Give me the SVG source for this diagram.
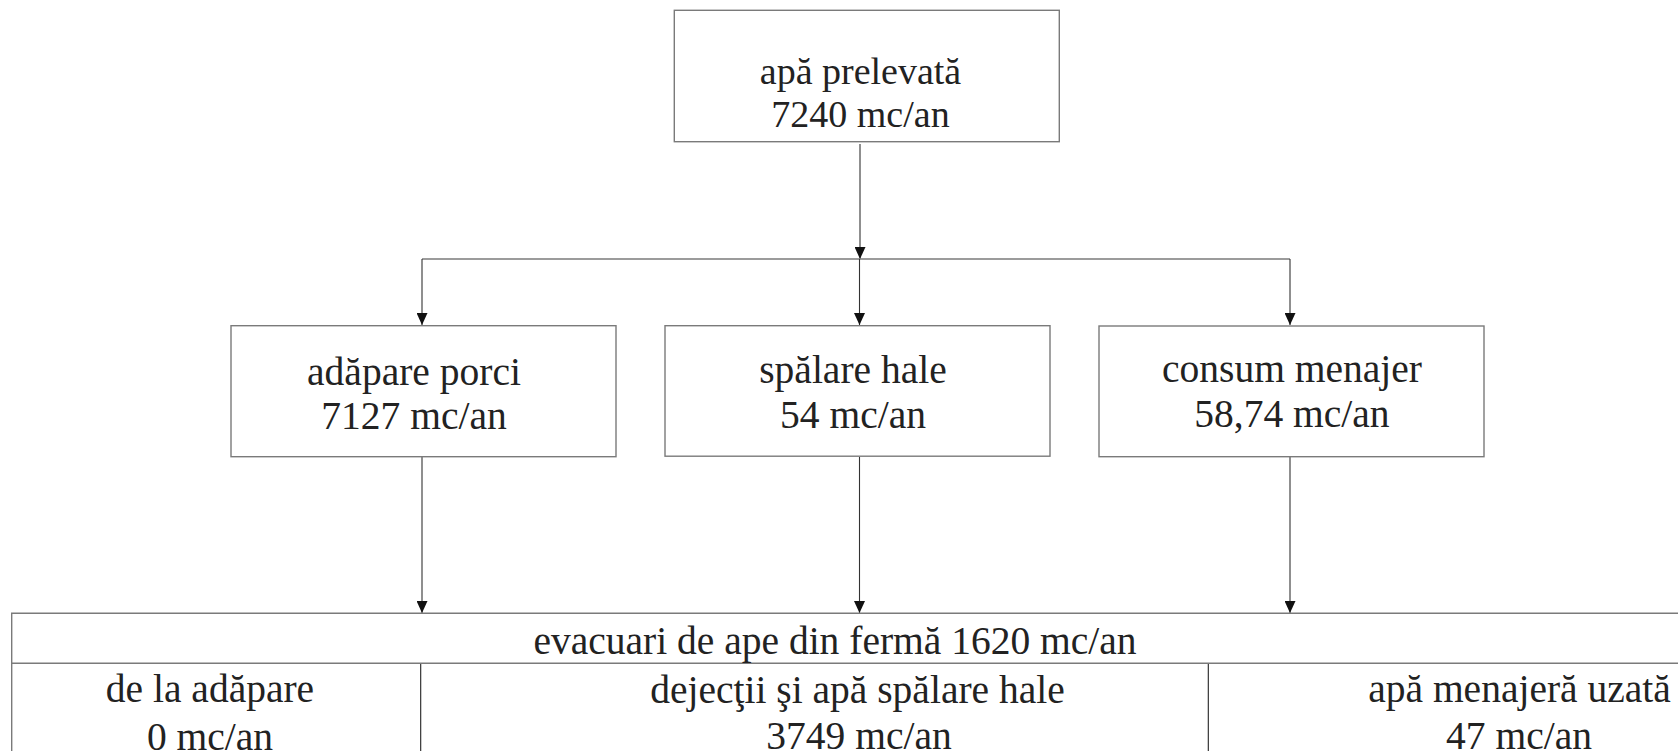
<svg xmlns="http://www.w3.org/2000/svg" width="1678" height="751" viewBox="0 0 1678 751">
<style>
.box{fill:#fff;stroke:#7a7a7a;stroke-width:1.4}
.tl{stroke:#7a7a7a;stroke-width:1.4;fill:none}
.dv{stroke:#222;stroke-width:1.1;fill:none}
.c{stroke:#333;stroke-width:1.1;fill:none}
.ch{stroke:#7a7a7a;stroke-width:1.4;fill:none}
text{font-family:'Liberation Serif',Tinos,'Times New Roman','DejaVu Serif',serif;font-size:39.5px;fill:#222;text-anchor:middle}
.t38{font-size:38px}
</style>
<defs>
<marker id="ah" markerWidth="12" markerHeight="11" refX="12" refY="5.5" orient="auto" markerUnits="userSpaceOnUse">
<path d="M0,0 L12,5.5 L0,11 Z" fill="#111"/>
</marker>
</defs>
<g id="connectors">
<line class="c" x1="860" y1="144" x2="860" y2="259" marker-end="url(#ah)"/>
<line class="ch" x1="422" y1="259" x2="1290" y2="259"/>
<line class="c" x1="422" y1="259" x2="422" y2="325" marker-end="url(#ah)"/>
<line class="c" x1="859.5" y1="259" x2="859.5" y2="325" marker-end="url(#ah)"/>
<line class="c" x1="1290" y1="259" x2="1290" y2="325" marker-end="url(#ah)"/>
<line class="c" x1="422" y1="457" x2="422" y2="613" marker-end="url(#ah)"/>
<line class="c" x1="859.5" y1="457" x2="859.5" y2="613" marker-end="url(#ah)"/>
<line class="c" x1="1290" y1="457" x2="1290" y2="613" marker-end="url(#ah)"/>
</g>
<g id="apa-prelevata">
<rect class="box" x="674.3" y="10.3" width="385" height="131.4"/>
<text class="t38" x="860.5" y="83.5" font-family="Liberation Serif, serif">apă prelevată</text>
<text class="t38" x="860.5" y="127" font-family="Liberation Serif, serif">7240 mc/an</text>
</g>
<g id="adapare-porci">
<rect class="box" x="231" y="325.7" width="385" height="131"/>
<text x="414" y="384.5">adăpare porci</text>
<text x="414" y="428.5">7127 mc/an</text>
</g>
<g id="spalare-hale">
<rect class="box" x="665" y="325.7" width="385" height="130.5"/>
<text x="853" y="383">spălare hale</text>
<text x="853" y="427.5">54 mc/an</text>
</g>
<g id="consum-menajer">
<rect class="box" x="1099" y="326" width="385" height="130.7"/>
<text x="1292" y="382">consum menajer</text>
<text x="1292" y="427">58,74 mc/an</text>
</g>
<g id="evacuari">
<path class="tl" d="M1678,613.3 H11.7 V751 M11.7,663.3 H1678"/>
<line class="dv" x1="420.7" y1="664" x2="420.7" y2="751"/>
<line class="dv" x1="1208.3" y1="664" x2="1208.3" y2="751"/>
<text x="835" y="653.5">evacuari de ape din fermă 1620 mc/an</text>
</g>
<g id="de-la-adapare">
<text x="210" y="702">de la adăpare</text>
<text x="210" y="750">0 mc/an</text>
</g>
<g id="dejectii">
<text x="857.5" y="702.5">dejecţii şi apă spălare hale</text>
<text x="859" y="748.5">3749 mc/an</text>
</g>
<g id="apa-menajera">
<text x="1519.5" y="702">apă menajeră uzată</text>
<text x="1519" y="748.5">47 mc/an</text>
</g>
</svg>
